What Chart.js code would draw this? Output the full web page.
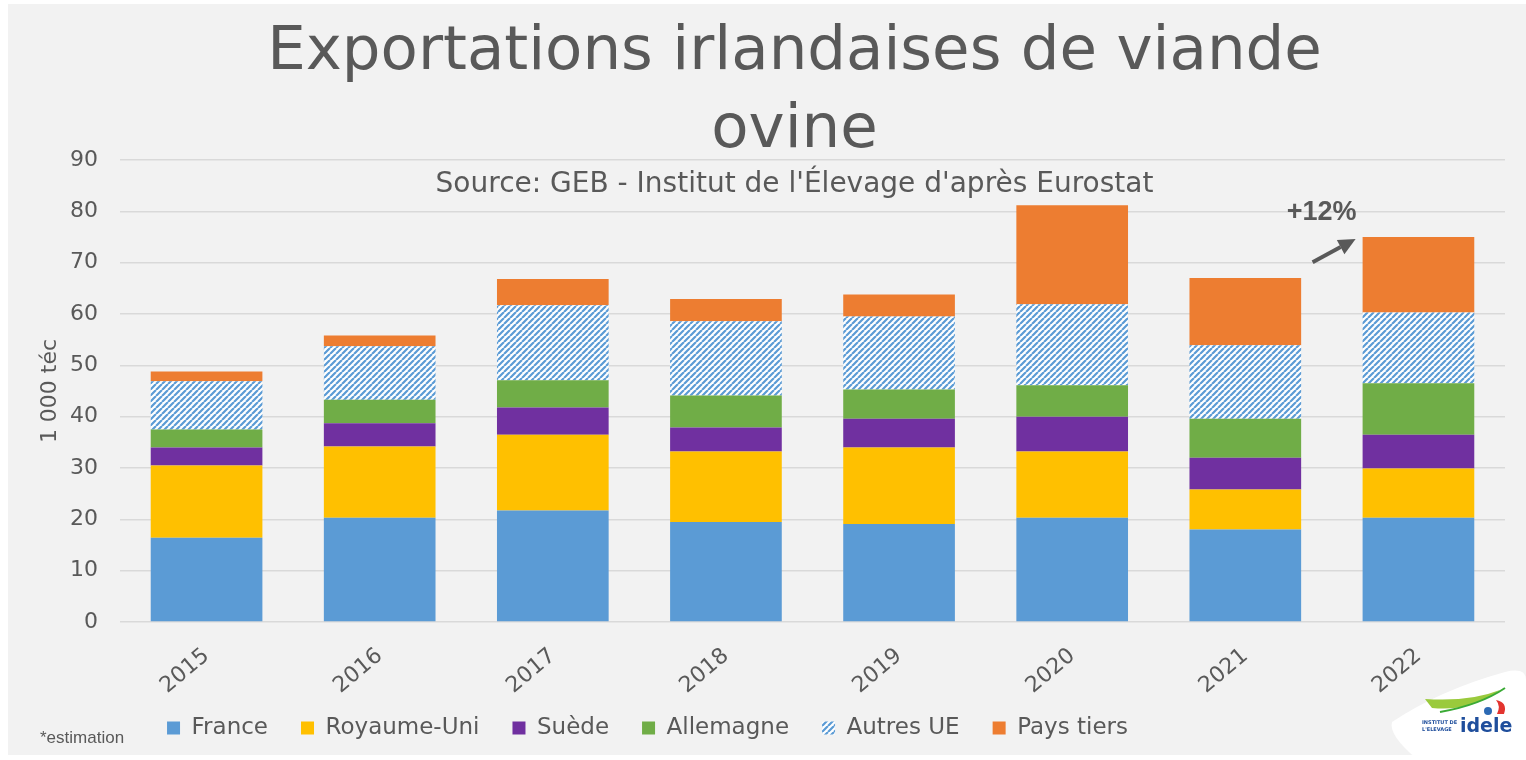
<!DOCTYPE html>
<html>
<head>
<meta charset="utf-8">
<script src="https://cdn.jsdelivr.net/npm/chart.js@4/dist/chart.umd.min.js"></script>
<style>
html,body{margin:0;padding:0;background:#ffffff;overflow:hidden;}
#wrap{position:absolute;left:0;top:0;width:1526px;height:760px;}
</style>
</head>
<body>
<div id="wrap"><canvas id="c" width="1526" height="760"></canvas></div>
<script>
// ---- data ----
const categories = ['2015', '2016', '2017', '2018', '2019', '2020', '2021', '2022'];
const france     = [16.4, 20.3, 21.7, 19.5, 19.1, 20.3, 18.0, 20.3];
const royaumeUni = [14.1, 13.9, 14.8, 13.7, 14.9, 12.9, 7.8, 9.6];
const suede      = [3.5, 4.5, 5.3, 4.7, 5.6, 6.8, 6.2, 6.6];
const allemagne  = [3.5, 4.6, 5.3, 6.2, 5.7, 6.1, 7.6, 10.0];
const autresUE   = [9.4, 10.4, 14.6, 14.5, 14.2, 15.8, 14.3, 13.8];
const paysTiers  = [1.9, 2.1, 5.1, 4.3, 4.3, 19.3, 13.1, 14.7];
const yTickValues = [0, 10, 20, 30, 40, 50, 60, 70, 80, 90];
const seriesNames = ['France', 'Royaume-Uni', 'Suède', 'Allemagne', 'Autres UE', 'Pays tiers'];
const titleLines = ['Exportations irlandaises de viande', 'ovine'];
const subtitleText = "Source: GEB - Institut de l'Élevage d'après Eurostat";
const yAxisTitle = '1 000 téc';
const noteText = '*estimation';
const growthLabel = '+12%';

const TEXT = '#595959';
const FONT = "'DejaVu Sans', 'Liberation Sans', sans-serif";

// hatch pattern for "Autres UE"
function makeHatch() {
  const s = 6;
  const pc = document.createElement('canvas');
  pc.width = s; pc.height = s;
  const p = pc.getContext('2d');
  p.fillStyle = '#ffffff';
  p.fillRect(0, 0, s, s);
  p.strokeStyle = '#5B9BD5';
  p.lineWidth = 2.2;
  p.beginPath();
  for (let k = -1; k <= 1; k++) {
    p.moveTo(k * s, s);
    p.lineTo(k * s + s, 0);
  }
  p.stroke();
  return p.createPattern(pc, 'repeat');
}
const hatch = makeHatch();

const background = {
  id: 'bg',
  beforeDraw(chart) {
    const {ctx, width, height} = chart;
    ctx.save();
    ctx.fillStyle = '#ffffff';
    ctx.fillRect(0, 0, width, height);
    ctx.fillStyle = '#f2f2f2';
    ctx.fillRect(8, 4, width - 8, height - 9);
    ctx.restore();
  }
};

const positioner = {
  id: 'positioner',
  afterLayout(chart) {
    chart.boxes.forEach(b => {
      if (b === chart.titleBlock || (b.options && b.options.text === subtitleText)) {
        b.left += 84;
      }
    });
    const lg = chart.legend;
    if (lg) {
      const pad = lg.options.labels.padding;
      const fs = lg.options.labels.font.size;
      const h = lg.bottom - lg.top;
      lg.left = 0;
      lg.right = 1295;
      lg.top = 728 - pad - fs / 2;
      lg.bottom = lg.top + h;
    }
  }
};

const extras = {
  id: 'extras',
  afterDraw(chart) {
    const {ctx} = chart;
    const ys = chart.scales.y;
    const bar = chart.getDatasetMeta(5).data[7];
    const barLeft = bar.x - bar.width / 2;
    // arrow
    const x1 = barLeft - 50, y1 = ys.getPixelForValue(70.1);
    const x2 = barLeft - 7, y2 = ys.getPixelForValue(74.6);
    const ang = Math.atan2(y2 - y1, x2 - x1);
    const headLen = 17, headW = 8;
    const bx = x2 - headLen * Math.cos(ang), by = y2 - headLen * Math.sin(ang);
    ctx.save();
    ctx.strokeStyle = TEXT;
    ctx.fillStyle = TEXT;
    ctx.lineWidth = 4;
    ctx.beginPath();
    ctx.moveTo(x1, y1);
    ctx.lineTo(bx, by);
    ctx.stroke();
    ctx.beginPath();
    ctx.moveTo(x2, y2);
    ctx.lineTo(bx + headW * Math.sin(ang), by - headW * Math.cos(ang));
    ctx.lineTo(bx - headW * Math.sin(ang), by + headW * Math.cos(ang));
    ctx.closePath();
    ctx.fill();
    // +12%
    ctx.font = "bold 27px 'Liberation Sans', sans-serif";
    ctx.textAlign = 'center';
    ctx.textBaseline = 'middle';
    ctx.fillText(growthLabel, barLeft - 41, ys.getPixelForValue(79.8));
    // note
    ctx.font = "17px 'Liberation Sans', sans-serif";
    ctx.textAlign = 'left';
    ctx.textBaseline = 'middle';
    ctx.fillText(noteText, 40, 738);
    // logo blob
    ctx.fillStyle = '#ffffff';
    ctx.beginPath();
    ctx.moveTo(1392, 722);
    ctx.quadraticCurveTo(1440, 690, 1505, 672);
    ctx.quadraticCurveTo(1526, 667, 1526, 680);
    ctx.lineTo(1526, 760);
    ctx.lineTo(1418, 760);
    ctx.quadraticCurveTo(1388, 735, 1392, 722);
    ctx.closePath();
    ctx.fill();
    // swoosh
    ctx.fillStyle = '#9ACA3C';
    ctx.beginPath();
    ctx.moveTo(1425, 699);
    ctx.quadraticCurveTo(1470, 702, 1500, 690);
    ctx.quadraticCurveTo(1470, 712, 1432, 708);
    ctx.closePath();
    ctx.fill();
    ctx.strokeStyle = '#3AAA35';
    ctx.lineWidth = 2;
    ctx.beginPath();
    ctx.moveTo(1440, 712);
    ctx.quadraticCurveTo(1480, 705, 1505, 688);
    ctx.stroke();
    // red flag & blue drop
    ctx.fillStyle = '#E3342F';
    ctx.beginPath();
    ctx.moveTo(1496, 700);
    ctx.quadraticCurveTo(1508, 702, 1504, 714);
    ctx.lineTo(1497, 714);
    ctx.quadraticCurveTo(1501, 706, 1496, 700);
    ctx.fill();
    ctx.fillStyle = '#2C6AB4';
    ctx.beginPath();
    ctx.arc(1488, 711, 4, 0, Math.PI * 2);
    ctx.fill();
    // texts
    ctx.fillStyle = '#1F4E9C';
    ctx.font = "bold 5px 'DejaVu Sans', sans-serif";
    ctx.textAlign = 'left';
    ctx.fillText('INSTITUT DE', 1422, 723);
    ctx.fillText("L'ELEVAGE", 1422, 730);
    ctx.font = "bold 19px 'DejaVu Sans', sans-serif";
    ctx.fillText('idele', 1460, 727);
    ctx.restore();
  }
};

const colors = ['#5B9BD5', '#FFC000', '#7030A0', '#70AD47', hatch, '#ED7D31'];
const values = [france, royaumeUni, suede, allemagne, autresUE, paysTiers];

new Chart(document.getElementById('c'), {
  type: 'bar',
  data: {
    labels: categories,
    datasets: values.map((v, i) => ({
      label: seriesNames[i],
      data: v,
      backgroundColor: colors[i],
      borderWidth: 0,
      categoryPercentage: 1.0,
      barPercentage: 0.645
    }))
  },
  options: {
    responsive: false,
    animation: false,
    layout: { padding: { left: 0, right: 21, top: 0, bottom: 0 } },
    plugins: {
      tooltip: { enabled: false },
      title: {
        display: true,
        text: titleLines,
        color: TEXT,
        font: { family: FONT, size: 61, weight: 'normal', lineHeight: 78 / 61 },
        padding: { top: 14, bottom: -10 }
      },
      subtitle: {
        display: true,
        text: subtitleText,
        color: TEXT,
        font: { family: FONT, size: 28, weight: 'normal', lineHeight: 1.2 },
        padding: { top: 8, bottom: -41.6 }
      },
      legend: {
        display: true,
        position: 'bottom',
        labels: {
          color: TEXT,
          font: { family: FONT, size: 23 },
          boxWidth: 13,
          boxHeight: 13,
          padding: 33
        }
      }
    },
    scales: {
      x: {
        stacked: true,
        grid: { display: false, drawTicks: false },
        border: { display: false },
        ticks: {
          color: TEXT,
          font: { family: FONT, size: 22 },
          minRotation: 40,
          maxRotation: 40,
          padding: 21
        },
        afterFit(scale) { scale.height = 72; }
      },
      y: {
        stacked: true,
        min: 0,
        max: 90,
        afterBuildTicks(scale) { scale.ticks = yTickValues.map(v => ({ value: v })); },
        grid: { color: '#d9d9d9', lineWidth: 1.5, drawTicks: false },
        border: { display: false },
        ticks: {
          color: TEXT,
          font: { family: FONT, size: 22 },
          padding: 22
        },
        title: {
          display: true,
          text: yAxisTitle,
          color: TEXT,
          font: { family: FONT, size: 22 },
          padding: { top: 37, bottom: 0 }
        },
        afterFit(scale) { scale.width = 120; }
      }
    }
  },
  plugins: [background, positioner, extras]
});
</script>
</body>
</html>
